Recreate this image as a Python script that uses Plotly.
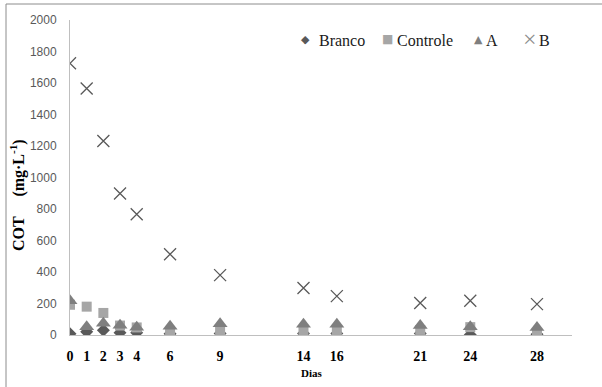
import plotly.graph_objects as go

# Sampling days
dias = [0, 1, 2, 3, 4, 6, 9, 14, 16, 21, 24, 28]

# Total organic carbon (mg/L) per treatment
branco = [8, 20, 30, 15, 15, 8, 10, 10, 10, 10, 2, 5]
controle = [192, 180, 140, 60, 48, 10, 30, 30, 25, 32, 50, 8]
trat_a = [218, 52, 75, 62, 50, 55, 72, 68, 68, 60, 52, 48]
trat_b = [1725, 1565, 1232, 898, 767, 513, 380, 298, 247, 203, 218, 196]

y_ticks = [0, 200, 400, 600, 800, 1000, 1200, 1400, 1600, 1800, 2000]

# Series styling: name, values, symbol, size, colour, legend glyph
series = [
    ("Branco", branco, "diamond", 10, "#595959", "◆"),
    ("Controle", controle, "square", 10, "#A6A6A6", "■"),
    ("A", trat_a, "triangle-up", 13, "#7F7F7F", "▲"),
    ("B", trat_b, "x-thin", 12, "#595959", "×"),
]

fig = go.Figure()
for name, vals, sym, size, col, _ in series:
    marker = dict(symbol=sym, size=size, color=col)
    if sym == "x-thin":
        marker["line"] = dict(color=col, width=1.3)
    fig.add_trace(go.Scatter(x=dias, y=vals, mode="markers", name=name,
                             marker=marker, showlegend=False))

serif = "Liberation Serif, Times New Roman, Times, DejaVu Serif, serif"

# Plot-area geometry in pixels (used to place paper-referenced items)
L, R, T, B = 70, 572, 20, 335
W, H = R - L, B - T


def px(x):
    return (x - L) / W


def py(y):
    return (B - y) / H


annotations = [
    dict(text="Dias", xref="paper", yref="paper", x=px(312), y=py(373),
         showarrow=False, xanchor="center", yanchor="middle",
         font=dict(family=serif, size=11, color="black", weight="bold")),
    dict(text="COT     (mg·L<sup>-1</sup>)", xref="paper", yref="paper",
         x=px(17), y=py(195), textangle=-90,
         showarrow=False, xanchor="center", yanchor="middle",
         font=dict(family=serif, size=16, color="black", weight="bold")),
]

# Compact legend row: glyph + label for each series
legend_pos = [(305, 317, 11), (387, 395, 12), (478, 484, 11), (530, 537, 24)]
for (name, _, _, _, col, glyph), (gx, tx, gsize) in zip(series, legend_pos):
    gfont = "DejaVu Sans" if glyph != "×" else serif
    gcol = col if glyph != "×" else "#8C8C8C"
    annotations.append(dict(
        text=glyph, xref="paper", yref="paper", x=px(gx), y=py(39),
        showarrow=False, xanchor="center", yanchor="middle",
        font=dict(family=gfont, size=gsize, color=gcol, weight="normal")))
    annotations.append(dict(
        text=name, xref="paper", yref="paper", x=px(tx), y=py(40),
        showarrow=False, xanchor="left", yanchor="middle",
        font=dict(family=serif, size=16, color="#1a1a1a", weight="normal")))

fig.update_layout(
    width=602, height=387,
    margin=dict(l=L, r=602 - R, t=T, b=387 - B),
    paper_bgcolor="white", plot_bgcolor="white",
    showlegend=False,
    xaxis=dict(
        range=[0, 30.1], tickmode="array", tickvals=dias,
        ticktext=[str(d) for d in dias],
        showgrid=False, zeroline=False,
        showline=True, linecolor="#BFBFBF", linewidth=1,
        ticks="", ticklabelstandoff=8,
        tickfont=dict(family=serif, size=14, color="black", weight="bold"),
    ),
    yaxis=dict(
        range=[0, 2000], tickmode="array", tickvals=y_ticks,
        showgrid=False, zeroline=False,
        showline=True, linecolor="#BFBFBF", linewidth=1,
        ticks="", ticklabelstandoff=10,
        tickfont=dict(family="Liberation Sans Narrow, Liberation Sans, sans-serif",
                      size=12, color="#595959"),
    ),
    annotations=annotations,
    shapes=[
        dict(type="line", xref="paper", yref="paper",
             x0=px(6), x1=px(602), y0=py(4), y1=py(4),
             line=dict(color="#8C8C8C", width=1)),
        dict(type="line", xref="paper", yref="paper",
             x0=px(6), x1=px(6), y0=py(4), y1=py(390),
             line=dict(color="#8C8C8C", width=1)),
    ],
)

fig.write_html("out.html")
